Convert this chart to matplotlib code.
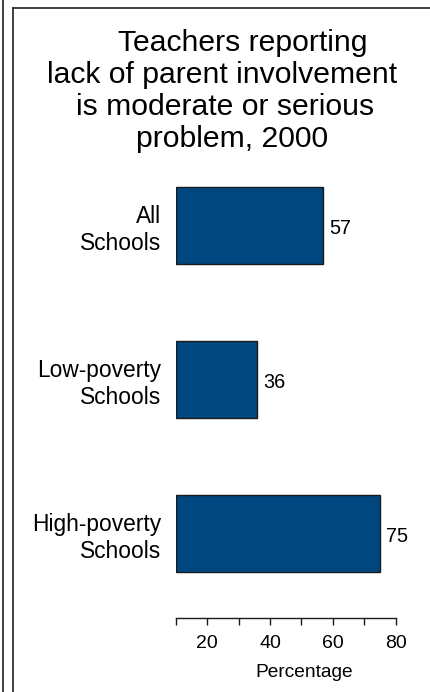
import matplotlib
matplotlib.use("Agg")
import matplotlib.pyplot as plt
from matplotlib.lines import Line2D

plt.rcParams['font.family'] = ['Liberation Sans', 'DejaVu Sans']

categories = ["All\nSchools", "Low-poverty\nSchools", "High-poverty\nSchools"]
values = [57, 36, 75]
tick_values = [10, 20, 30, 40, 50, 60, 70, 80]
tick_labels = ["", "20", "", "40", "", "60", "", "80"]
title_lines = ["Teachers reporting", "lack of parent involvement",
               "is moderate or serious", "problem, 2000"]
xlabel = "Percentage"

W, H = 430, 692
fig = plt.figure(figsize=(W / 100, H / 100), dpi=100)

ax_left = 175.7 / W
ax_right = 395.7 / W
ax_bottom = (H - 617.7) / H
ax_top = (H - 148.8) / H
ax = fig.add_axes([ax_left, ax_bottom, ax_right - ax_left, ax_top - ax_bottom])

base = 10
ypos = list(range(len(categories)))
ax.barh(ypos, [v - base for v in values], left=base, height=0.5,
        color="#00467f", edgecolor="#1a1a1a", linewidth=1.0)
for y, v in zip(ypos, values):
    ax.text(v + 1.8, y + 0.02, str(v), va="center", ha="left", fontsize=14.3)

ax.set_xlim(10, 80)
ax.set_ylim(2.545, -0.5)
ax.set_xticks(tick_values)
ax.set_xticklabels(tick_labels, fontsize=14)
ax.set_yticks(ypos)
ax.set_yticklabels(categories, fontsize=16.4, ha="right")
ax.tick_params(axis="y", length=0, pad=10.6)
ax.tick_params(axis="x", direction="out", length=4.7, width=1.0, pad=7.5, color="#1a1a1a")
for s in ["top", "right", "left"]:
    ax.spines[s].set_visible(False)
ax.spines["bottom"].set_bounds(10, 80)
ax.spines["bottom"].set_linewidth(1.0)
ax.spines["bottom"].set_color("#1a1a1a")
ax.set_xlabel(xlabel, fontsize=13.8)
ax.xaxis.set_label_coords(0.583, -0.099)

# title lines, individually placed as in the reference
line_centers_x = [243, 222, 225, 232]
line_baselines_y = [50.7, 82.7, 114.7, 146.7]
for txt, cx, by in zip(title_lines, line_centers_x, line_baselines_y):
    fig.text(cx / W, 1 - by / H, txt, ha="center", va="baseline", fontsize=21.7)

# frame lines
def px_line(xs, ys):
    fig.add_artist(Line2D([x / W for x in xs], [1 - y / H for y in ys],
                          transform=fig.transFigure, color="#333333", linewidth=1.3))

px_line([3, 3], [0, H])
px_line([13, 13], [7.5, H])
px_line([13, W], [7.5, 7.5])

fig.savefig("out.png", dpi=100)
